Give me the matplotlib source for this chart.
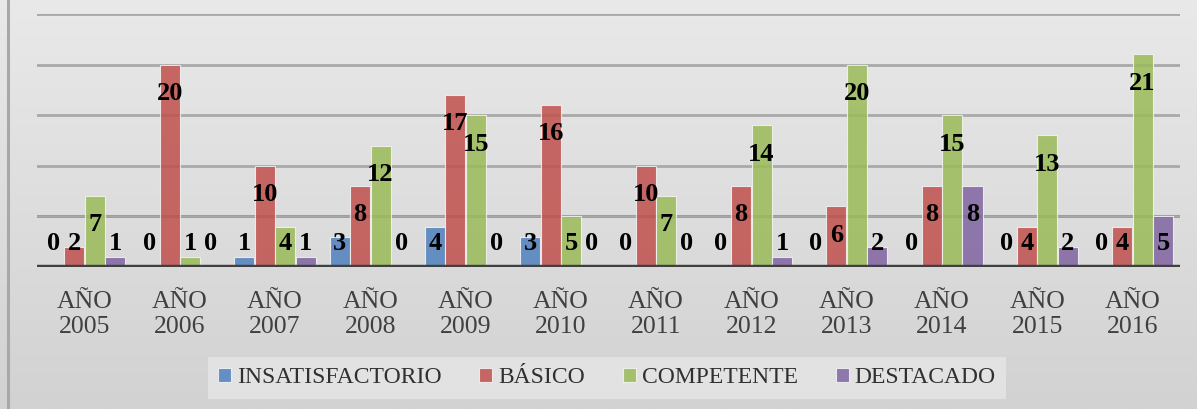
import numpy as np
import matplotlib
matplotlib.use('Agg')
import matplotlib.pyplot as plt

# Categories and series values
YEARS = ['AÑO\n2005', 'AÑO\n2006', 'AÑO\n2007', 'AÑO\n2008', 'AÑO\n2009', 'AÑO\n2010',
         'AÑO\n2011', 'AÑO\n2012', 'AÑO\n2013', 'AÑO\n2014', 'AÑO\n2015', 'AÑO\n2016']
SERIES = ['INSATISFACTORIO', 'BÁSICO', 'COMPETENTE', 'DESTACADO']
insatisfactorio = [0, 0, 1, 3, 4, 3, 0, 0, 0, 0, 0, 0]
basico = [2, 20, 10, 8, 17, 16, 10, 8, 6, 8, 4, 4]
competente = [7, 1, 4, 12, 15, 5, 7, 14, 20, 15, 13, 21]
destacado = [1, 0, 1, 0, 0, 0, 0, 1, 2, 8, 2, 5]

COLOURS = ['#4F81BD', '#C0504D', '#9BBB59', '#8064A2']
SERIF = ['Liberation Serif', 'DejaVu Serif']

fig = plt.figure(figsize=(11.97, 4.09), dpi=100)

# Gradient background for the whole chart area
bg = fig.add_axes([0, 0, 1, 1], zorder=-10)
grad = np.linspace(0, 1, 256).reshape(-1, 1)
bg.imshow(grad, aspect='auto', cmap=matplotlib.colors.LinearSegmentedColormap.from_list(
    'bg', ['#e9e9e9', '#d2d2d2']), extent=[0, 1, 0, 1], origin='upper')
bg.axvline(0.0065, color='#a8a8a8', lw=2.2)
bg.set_xlim(0, 1)
bg.set_ylim(0, 1)
bg.axis('off')

ax = fig.add_axes([0.0309, 0.3472, 0.9549, 0.6186])
ax.patch.set_alpha(0)

x = np.arange(len(YEARS))
width = 0.212
values = [insatisfactorio, basico, competente, destacado]

for i, (name, vals) in enumerate(zip(SERIES, values)):
    pos = x + (i - 1.5) * 0.215
    ax.bar(pos, vals, width, color=COLOURS[i], alpha=0.85, label=name,
           edgecolor='#f4f4f4', linewidth=0.8, zorder=3)
    # data labels: inside end, pushed up when the bar is too short
    for px, v in zip(pos, vals):
        ax.text(px, max(v - 2.85, 2.35), str(v), ha='center', va='center',
                fontsize=19, fontweight='bold', family=SERIF, color='black', zorder=5)

ax.set_xlim(-0.5, 11.5)
ax.set_ylim(0, 25)
ax.set_yticks([5, 10, 15, 20, 25])
ax.yaxis.grid(True, color='#a9a9a9', lw=2, zorder=1)
ax.axhline(5, color='#1a1a1a', lw=1.8, zorder=1)
ax.axhline(0, color='#404040', lw=3.2, zorder=4)
ax.tick_params(axis='y', left=False, labelleft=False)
ax.tick_params(axis='x', bottom=False, pad=14)
ax.set_xticks(x)
ax.set_xticklabels(YEARS, fontsize=18.5, family=SERIF, color='#404040', linespacing=1.18)
for s in ax.spines.values():
    s.set_visible(False)

leg = fig.legend(loc='center', bbox_to_anchor=(0.507, 0.076), ncol=4, frameon=True,
                 fancybox=False, prop={'family': SERIF, 'size': 17},
                 handlelength=0.55, handleheight=0.55, handletextpad=0.25,
                 columnspacing=1.6, borderpad=0.45)
leg.get_frame().set_facecolor('#e6e6e6')
leg.get_frame().set_edgecolor('none')
for t in leg.get_texts():
    t.set_color('#303030')

plt.savefig('out.png', dpi=100)
plt.close()
